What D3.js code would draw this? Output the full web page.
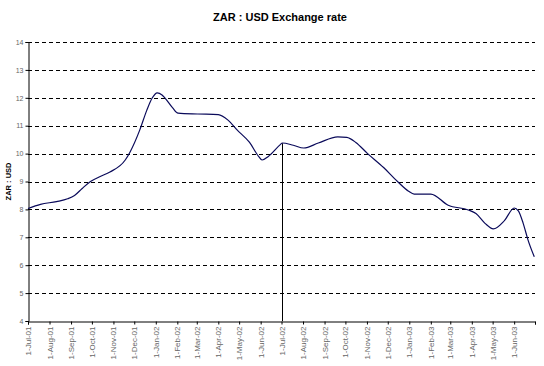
<!DOCTYPE html>
<html>
<head>
<meta charset="utf-8">
<script src="https://cdn.jsdelivr.net/npm/d3@7/dist/d3.min.js"></script>
<style>
    body { margin: 0; background: #fff; }
    svg { font-family: "Liberation Sans", Arial, sans-serif; }
</style>
</head>
<body>
<svg id="chart" width="544" height="366"></svg>
<script>
// ZAR per USD
var dates = [
    "2001-07-01", "2001-07-19", "2001-08-11", "2001-08-27", "2001-09-06", "2001-09-17",
    "2001-09-29", "2001-10-13", "2001-10-27", "2001-11-18", "2001-11-25", "2001-12-09",
    "2001-12-19", "2001-12-27", "2002-01-03", "2002-01-10", "2002-01-14", "2002-01-25",
    "2002-02-02", "2002-03-02", "2002-04-01", "2002-04-15", "2002-04-28", "2002-05-16",
    "2002-05-29", "2002-06-03", "2002-06-12", "2002-06-30", "2002-07-02", "2002-07-18",
    "2002-08-02", "2002-08-23", "2002-09-20", "2002-10-03", "2002-10-16", "2002-11-02",
    "2002-11-25", "2002-12-15", "2002-12-31", "2003-01-08", "2003-02-01", "2003-02-26",
    "2003-03-27", "2003-04-07", "2003-04-20", "2003-05-02", "2003-05-18", "2003-06-01",
    "2003-06-07", "2003-06-14", "2003-06-21", "2003-06-30"
];
var rates = [
    8.03, 8.18, 8.28, 8.38, 8.50, 8.75,
    9.00, 9.18, 9.34, 9.77, 10.06, 10.85,
    11.55, 12.00, 12.18, 12.10, 12.00, 11.65,
    11.45, 11.42, 11.40, 11.20, 10.85, 10.40,
    9.90, 9.77, 9.90, 10.34, 10.38, 10.30,
    10.20, 10.38, 10.60, 10.58, 10.40, 10.00,
    9.50, 9.00, 8.65, 8.55, 8.55, 8.15,
    7.98, 7.85, 7.50, 7.30, 7.60, 8.05,
    7.95, 7.50, 6.90, 6.30
];
var yTicks = [4, 5, 6, 7, 8, 9, 10, 11, 12, 13, 14];
var dropDate = "2002-07-01";

var parse = d3.timeParse("%Y-%m-%d");
var data = dates.map(function (d, i) { return { date: parse(d), value: rates[i] }; });

var svg = d3.select("#chart");
var margin = { left: 28, right: 9, top: 42, bottom: 45 };
var width = 544, height = 366;

var xScale = d3.scaleTime()
    .domain([parse("2001-07-01"), parse("2003-07-01")])
    .range([margin.left, width - margin.right]);
var yScale = d3.scaleLinear()
    .domain([4, 14])
    .range([height - margin.bottom, margin.top]);

// title
svg.append("text")
    .attr("x", 280).attr("y", 21)
    .attr("text-anchor", "middle")
    .style("font-size", "11px").style("font-weight", "bold")
    .text("ZAR : USD Exchange rate");

// gridlines
svg.append("g").selectAll("line").data(yTicks.slice(1))
    .enter().append("line")
    .attr("x1", margin.left).attr("x2", width - margin.right)
    .attr("y1", function (d) { return Math.round(yScale(d)) + 0.5; })
    .attr("y2", function (d) { return Math.round(yScale(d)) + 0.5; })
    .attr("stroke", "#000").attr("stroke-width", 1)
    .attr("stroke-dasharray", "4,3");

// y axis
var yAxis = svg.append("g")
    .attr("transform", "translate(" + (margin.left + 0.5) + ",0)")
    .call(d3.axisLeft(yScale).tickValues(yTicks).tickSize(3).tickPadding(2));
yAxis.selectAll("text").style("font-size", "7px").attr("fill", "#666");

svg.append("text")
    .attr("transform", "translate(11," + ((margin.top + height - margin.bottom) / 2) + ") rotate(-90)")
    .attr("text-anchor", "middle")
    .style("font-size", "7.5px").style("font-weight", "bold")
    .text("ZAR : USD");

// x axis, monthly ticks
var months = d3.timeMonth.range(parse("2001-07-01"), parse("2003-07-02"));
var fmt = d3.timeFormat("%b-%y");
var xAxis = svg.append("g")
    .attr("transform", "translate(0," + (Math.round(yScale(4)) + 0.5) + ")")
    .call(d3.axisBottom(xScale).tickValues(months).tickSize(3)
        .tickFormat(function (d, i) { return i < months.length - 1 ? "1-" + fmt(d) : ""; }));
xAxis.selectAll("text")
    .style("font-size", "8px").attr("fill", "#666")
    .attr("text-anchor", "end")
    .attr("transform", "rotate(-90)")
    .attr("x", -5).attr("y", 0).attr("dy", "0.32em");
svg.selectAll(".domain, .tick line").attr("stroke", "#000");

// drop line at 1-Jul-02
var dropX = Math.round(xScale(parse(dropDate))) + 0.5;
svg.append("line")
    .attr("x1", dropX).attr("x2", dropX)
    .attr("y1", yScale(10.37)).attr("y2", yScale(4))
    .attr("stroke", "#000").attr("stroke-width", 1);

// rate line
var line = d3.line()
    .x(function (d) { return xScale(d.date); })
    .y(function (d) { return yScale(d.value); })
    .curve(d3.curveMonotoneX);

svg.append("path")
    .datum(data)
    .attr("fill", "none")
    .attr("stroke", "#0a0a5a")
    .attr("stroke-width", 1.2)
    .attr("d", line);
</script>
</body>
</html>
